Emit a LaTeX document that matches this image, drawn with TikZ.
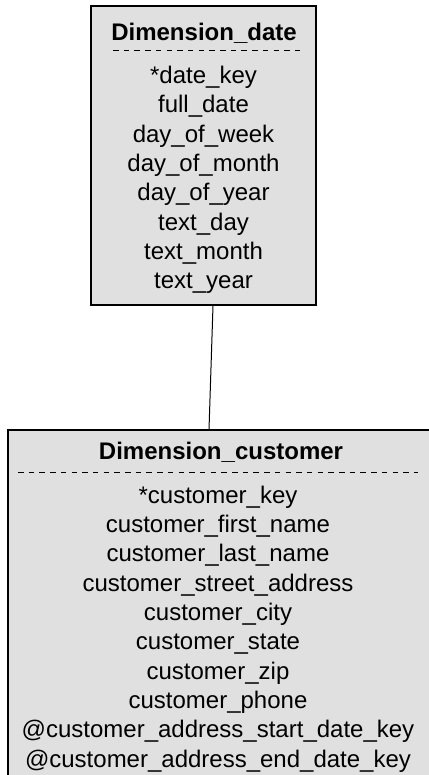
\documentclass[tikz,border=0pt]{standalone}
\usepackage{fontspec}
\setmainfont{Liberation Sans}
\usetikzlibrary{positioning, calc}
\definecolor{Dark}{HTML}{000000}
\definecolor{Panel}{HTML}{E0E0E0}
\tikzset{
    tablebox/.style={rectangle, draw=Dark, fill=Panel, line width=1.2pt, inner sep=0pt},
    tabletitle/.style={font=\fontsize{24}{29.3}\selectfont\bfseries, text=Dark, inner sep=0pt},
    tablefields/.style={align=center, font=\fontsize{24}{29.3}\selectfont, text=Dark, inner sep=0pt},
    divider/.style={dash pattern=on 5.5pt off 5.2pt, line width=0.9pt, color=Dark},
    link/.style={line width=1pt, color=Dark},
}

\begin{document}
\begin{tikzpicture}[x=1pt, y=-1pt]
    \useasboundingbox (0,0) rectangle (428,775);
    % date dimension
    \node[tablebox, minimum width=225pt, minimum height=299pt] (date) at (203.5,155.5) {};
    \node[tabletitle] (datetitle) at (204,33) {Dimension\_date};
    \draw[divider] (113,50) -- (302,50);
    \node[tablefields] (datefields) at (203.5,180) {*date\_key\\ full\_date\\ day\_of\_week\\ day\_of\_month\\ day\_of\_year\\ text\_day\\ text\_month\\ text\_year};
    % customer dimension
    \node[tablebox, minimum width=426pt, minimum height=356pt] (cust) at (221,608) {};
    \node[tabletitle] (custtitle) at (221,452) {Dimension\_customer};
    \draw[divider] (18,472) -- (418,472);
    \node[tablefields] (custfields) at (218,629) {*customer\_key\\ customer\_first\_name\\ customer\_last\_name\\ customer\_street\_address\\ customer\_city\\ customer\_state\\ customer\_zip\\ customer\_phone\\ @customer\_address\_start\_date\_key\\ @customer\_address\_end\_date\_key};
    % link
    \draw[link] ([xshift=9.5pt]date.south) -- ([xshift=-12pt]cust.north);
\end{tikzpicture}
\end{document}
